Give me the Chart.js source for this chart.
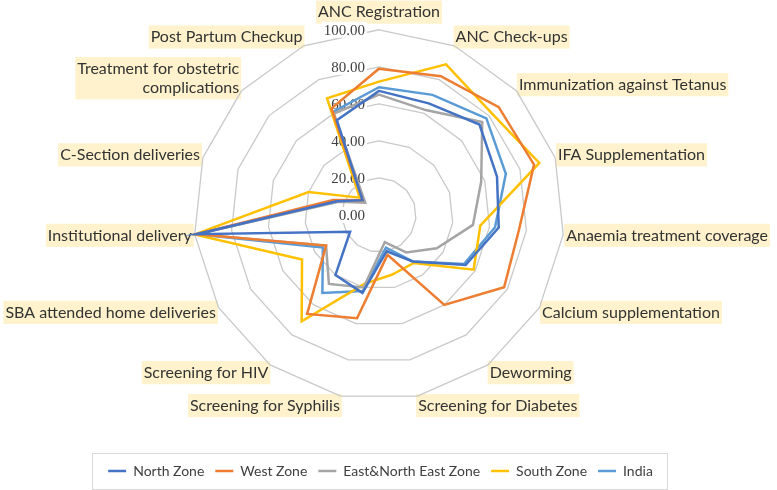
<!DOCTYPE html>
<html>
<head>
<meta charset="utf-8">
<script src="https://cdn.jsdelivr.net/npm/chart.js@4"></script>
<style>
  html, body { margin: 0; padding: 0; background: #fff; }
  #wrap { width: 777px; height: 490px; }
</style>
</head>
<body>
<div id="wrap"><canvas id="radar"></canvas></div>
<script>
// categories, clockwise from the top
const categories = [
  "ANC Registration", "ANC Check-ups", "Immunization against Tetanus",
  "IFA Supplementation", "Anaemia treatment coverage", "Calcium supplementation",
  "Deworming", "Screening for Diabetes", "Screening for Syphilis",
  "Screening for HIV", "SBA attended home deliveries", "Institutional delivery",
  "C-Section deliveries", ["Treatment for obstetric", "complications"], "Post Partum Checkup"
];

// values
const northZone = [67, 66, 73, 67, 65, 54, 31, 20, 43, 40, 18, 99, 24, 12, 56];
const westZone  = [79, 82, 87, 88, 76, 78, 60, 22, 57, 66, 33, 99, 26, 12, 63];
const eastZone  = [65, 62, 75, 58, 51, 36, 25, 15, 40, 46, 33, 99, 23, 10, 60];
const southZone = [72, 89, 82, 91, 55, 59, 32, 33, 38, 71, 48, 100, 40, 14, 69];
const india     = [69, 71, 78, 72, 63, 53, 31, 18, 42, 52, 35, 99, 25, 12, 61];

const tickValues = [0, 20, 40, 60, 80, 100];

// tick labels sit left of the vertical axis, like the original
const tickLabelPlugin = {
  id: "tickLabels",
  beforeDatasetsDraw(chart) {
    const scale = chart.scales.r;
    const ctx = chart.ctx;
    ctx.save();
    ctx.font = "15px 'Liberation Serif'";
    ctx.textAlign = "right";
    ctx.textBaseline = "middle";
    tickValues.forEach(v => {
      const y = scale.yCenter - scale.getDistanceFromCenterForValue(v);
      const txt = v.toFixed(2);
      const w = ctx.measureText(txt).width;
      const x = scale.xCenter - 14;
      ctx.fillStyle = "#fff";
      ctx.fillRect(x - w - 2, y - 8, w + 4, 16);
      ctx.fillStyle = "#404040";
      ctx.fillText(txt, x, y + 1);
    });
    ctx.restore();
  }
};

// side labels centred on their axis end, as Excel does
const labelCenterPlugin = {
  id: "labelCenter",
  afterLayout(chart) {
    const scale = chart.scales.r;
    const items = scale._pointLabelItems;
    if (!items) return;
    items.forEach((item, i) => {
      const h = item.bottom - item.top;
      if (i === 0) {
        item.y -= 5;
      } else {
        const angle = scale.getIndexAngle(i);
        const p = scale.getPointPosition(i, scale.drawingArea);
        item.y = p.y - (h / 2) * Math.cos(angle) - h / 2;
      }
      item.top = item.y;
      item.bottom = item.y + h;
    });
    // nudge the legend a little to the left
    const lg = chart.legend;
    lg.left -= 8;
    lg.right -= 8;
    (lg.legendHitBoxes || []).forEach(b => { b.left -= 8; });
  }
};

// frame round the legend
const legendBoxPlugin = {
  id: "legendBox",
  afterDraw(chart) {
    const boxes = chart.legend.legendHitBoxes;
    if (!boxes || !boxes.length) return;
    let left = Infinity, right = -Infinity, top = Infinity, bottom = -Infinity;
    boxes.forEach(b => {
      left = Math.min(left, b.left);
      right = Math.max(right, b.left + b.width);
      top = Math.min(top, b.top);
      bottom = Math.max(bottom, b.top + b.height);
    });
    const ctx = chart.ctx;
    ctx.save();
    ctx.strokeStyle = "#D9D9D9";
    ctx.lineWidth = 1;
    ctx.strokeRect(Math.round(left - 16) + 0.5, Math.round(top - 11) + 0.5,
                   Math.round(right - left + 30), Math.round(bottom - top + 22));
    ctx.restore();
  }
};

function series(label, data, color) {
  return {
    label, data,
    borderColor: color,
    backgroundColor: color,
    borderWidth: 2.5,
    fill: false,
    pointRadius: 0,
    pointHoverRadius: 0,
    tension: 0
  };
}

new Chart(document.getElementById("radar").getContext("2d"), {
  type: "radar",
  data: {
    labels: categories,
    datasets: [
      series("North Zone", northZone, "#4472C4"),
      series("West Zone", westZone, "#ED7D31"),
      series("East&North East Zone", eastZone, "#A5A5A5"),
      series("South Zone", southZone, "#FFC000"),
      series("India", india, "#5B9BD5")
    ]
  },
  options: {
    responsive: true,
    maintainAspectRatio: false,
    animation: false,
    layout: { padding: { top: 0, bottom: 2, left: 0, right: 0 } },
    plugins: {
      tooltip: { enabled: false },
      legend: {
        position: "bottom",
        title: { display: true, text: " ", font: { size: 10 }, padding: { top: 0, bottom: 15 } },
        labels: {
          usePointStyle: true,
          pointStyle: "line",
          pointStyleWidth: 18,
          padding: 11,
          color: "#404040",
          font: { family: "Lato", size: 14 }
        }
      }
    },
    scales: {
      r: {
        min: 0,
        max: 100,
        ticks: { stepSize: 20, display: false },
        angleLines: { display: false },
        grid: { color: "#C9C9C9", lineWidth: 1.3 },
        pointLabels: {
          color: "#333",
          font: { family: "Lato", size: 16 },
          padding: 3,
          backdropColor: "#FFF2CC",
          backdropPadding: { top: 2, bottom: 2, left: 2, right: 2 }
        }
      }
    }
  },
  plugins: [tickLabelPlugin, labelCenterPlugin, legendBoxPlugin]
});
</script>
</body>
</html>
